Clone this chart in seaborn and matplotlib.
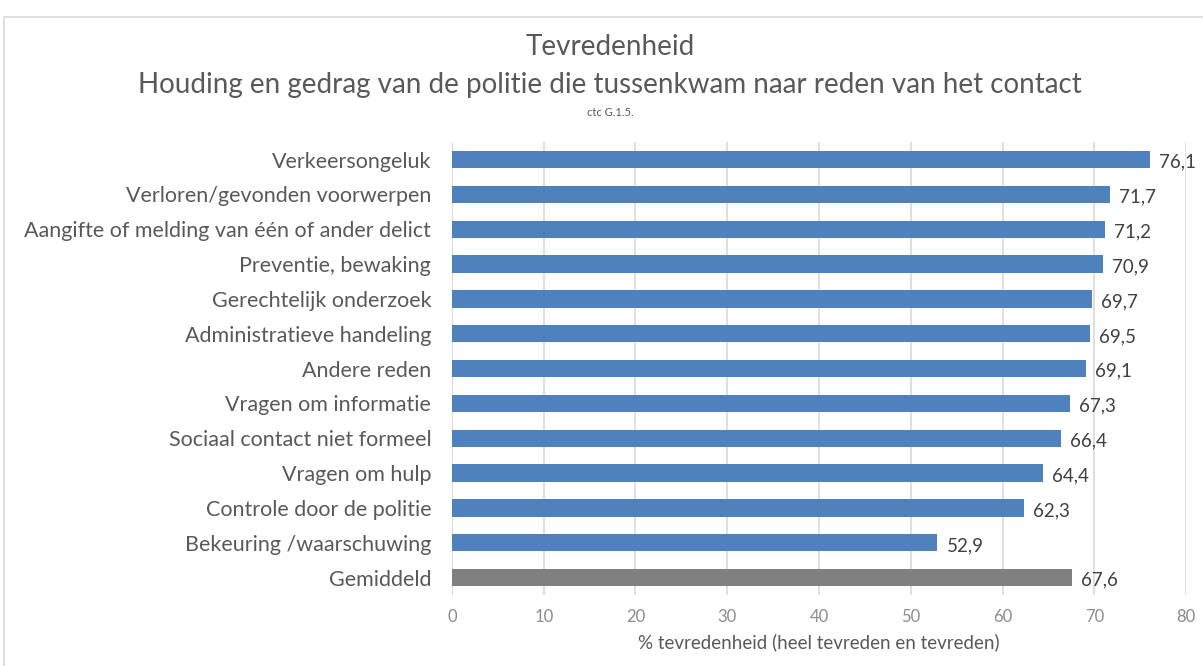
import matplotlib
matplotlib.use("Agg")
import matplotlib.pyplot as plt
import seaborn as sns
import pandas as pd
from matplotlib.patches import Rectangle

categories = [
    "Verkeersongeluk",
    "Verloren/gevonden voorwerpen",
    "Aangifte of melding van één of ander delict",
    "Preventie, bewaking",
    "Gerechtelijk onderzoek",
    "Administratieve handeling",
    "Andere reden",
    "Vragen om informatie",
    "Sociaal contact niet formeel",
    "Vragen om hulp",
    "Controle door de politie",
    "Bekeuring /waarschuwing",
    "Gemiddeld",
]
values = [76.1, 71.7, 71.2, 70.9, 69.7, 69.5, 69.1, 67.3, 66.4, 64.4, 62.3, 52.9, 67.6]
bar_colors = ["#4F81BD"] * 12 + ["#808080"]
x_ticks = [0, 10, 20, 30, 40, 50, 60, 70, 80]

df = pd.DataFrame({"reden": categories, "pct": values})

sns.set_style("white")
plt.rcParams["font.family"] = ["Lato", "DejaVu Sans"]
text_color = "#595959"

fig = plt.figure(figsize=(12.03, 6.66), dpi=100)
ax = fig.add_axes([0.3757, 0.1066, 0.6102, 0.680])

sns.barplot(data=df, x="pct", y="reden", hue="reden", palette=bar_colors,
            legend=False, width=0.5, orient="h", ax=ax, edgecolor="none",
            saturation=1)

ax.set_xlim(0, 80)
ax.set_xticks(x_ticks)
ax.set_xticklabels([f"{t}" for t in x_ticks], fontsize=12, color="#8c8c8c")
ax.tick_params(axis="x", length=0, pad=10)
ax.tick_params(axis="y", length=0, labelsize=15.5, labelcolor=text_color, pad=15)
ax.xaxis.grid(True, color="#d9d9d9", linewidth=1.2)
ax.set_axisbelow(True)
for s in ax.spines.values():
    s.set_visible(False)
ax.axvline(0, color="#d9d9d9", linewidth=1.2, zorder=0)

for i, v in enumerate(values):
    ax.text(v + 1.0, i + 0.08, f"{v:.1f}".replace(".", ","), va="center", ha="left",
            fontsize=13.5, color="#404040")

ax.set_xlabel("% tevredenheid (heel tevreden en tevreden)", fontsize=13.5,
              color=text_color, labelpad=6)
ax.set_ylabel("")

fig.text(0.507, 0.930, "Tevredenheid", ha="center", va="center", fontsize=20, color=text_color)
fig.text(0.507, 0.873, "Houding en gedrag van de politie die tussenkwam naar reden van het contact",
         ha="center", va="center", fontsize=20, color=text_color)
fig.text(0.507, 0.831, "ctc G.1.5.", ha="center", va="center", fontsize=8, color=text_color)

fig.patches.append(Rectangle((0.003, -0.01), 1.01, 0.985, transform=fig.transFigure,
                             fill=False, edgecolor="#d9d9d9", linewidth=1.2))

fig.savefig("out.png", dpi=100)
